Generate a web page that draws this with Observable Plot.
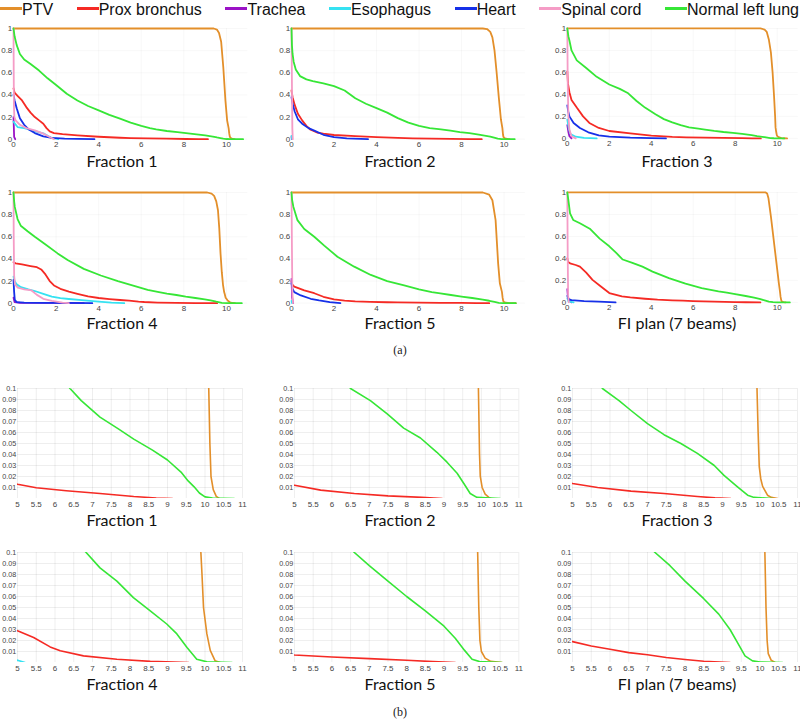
<!DOCTYPE html>
<html><head><meta charset="utf-8">
<script src="https://cdn.jsdelivr.net/npm/d3@7"></script>
<script src="https://cdn.jsdelivr.net/npm/@observablehq/plot@0.6"></script>
<style>
body{margin:0;background:#fff;}
#root{position:relative;width:800px;height:722px;overflow:hidden;background:#fff;font-family:"Liberation Sans",Arial,sans-serif;}
.panel{position:absolute;}
.title{position:absolute;font-family:Lato,sans-serif;font-size:16px;line-height:12px;color:#111;white-space:nowrap;transform:translateX(-50%);}
#legend{position:absolute;left:0;top:1px;width:799px;display:flex;justify-content:space-between;align-items:center;height:17px;}
.leg{display:flex;align-items:center;font-size:16px;line-height:17px;height:17px;color:#111;white-space:nowrap;}
.leg .sw{display:inline-block;width:22px;height:3px;margin-top:-2px;}
.sub{position:absolute;font-family:"Liberation Serif","DejaVu Serif",serif;font-size:12px;line-height:12px;color:#222;transform:translateX(-50%);}
</style></head>
<body><div id="root"><div id="legend"></div></div>
<script>
// ---------- data ----------
const structures = ["PTV","Prox bronchus","Trachea","Esophagus","Heart","Spinal cord","Normal left lung"];
const colors = ["#E38F2A","#F52A24","#9B12C6","#35E2F2","#1630E8","#F59CC6","#36E636"];
const panelTitles = ["Fraction 1","Fraction 2","Fraction 3","Fraction 4","Fraction 5","FI plan (7 beams)"];
const subLabels = ["(a)","(b)"];
const fullXTicks = [0,2,4,6,8,10];
const fullYTicks = [0,0.2,0.4,0.6,0.8,1];
const zoomXTicks = [5,5.5,6,6.5,7,7.5,8,8.5,9,9.5,10,10.5,11];
const zoomYTicks = [0.01,0.02,0.03,0.04,0.05,0.06,0.07,0.08,0.09,0.1];

const fraction1 = {
  "PTV": [[0,1],[9.4,1],[9.55,0.99],[9.65,0.96],[9.75,0.88],[9.85,0.65],[9.95,0.35],[10.03,0.17],[10.1,0.1],[10.13,0.05],[10.16,0.02],[10.22,0.008],[10.3,0.002],[10.38,0]],
  "Prox bronchus": [[0,0.46],[0.05,0.42],[0.2,0.39],[0.4,0.35],[0.6,0.29],[0.8,0.24],[1.0,0.2],[1.2,0.17],[1.4,0.14],[1.55,0.1],[1.7,0.07],[1.9,0.055],[2.3,0.045],[3,0.035],[4,0.022],[5,0.013],[5.5,0.0098],[6.3,0.007],[7.2,0.0045],[8.1,0.0018],[8.7,0.0005],[9.13,0]],
  "Trachea": [[0,0.2],[0.03,0.02],[0.08,0]],
  "Esophagus": [[0,0.157],[0.19,0.11],[0.5,0.1],[0.97,0.075],[1.44,0.05],[1.75,0.015],[2.1,0]],
  "Heart": [[0,0.4],[0.05,0.35],[0.15,0.28],[0.3,0.19],[0.5,0.13],[0.7,0.09],[1.0,0.055],[1.4,0.025],[1.8,0.012],[2.4,0.005],[3.0,0.002],[3.8,0]],
  "Spinal cord": [[0,1],[0.01,0.6],[0.02,0.3],[0.04,0.2],[0.1,0.17],[0.3,0.13],[0.6,0.1],[1.0,0.08],[1.4,0.05],[1.7,0.02],[1.9,0]],
  "Normal left lung": [[0,1],[0.05,0.93],[0.15,0.85],[0.3,0.77],[0.5,0.72],[0.8,0.68],[1.2,0.62],[1.6,0.55],[2.0,0.49],[2.5,0.41],[3.0,0.35],[3.5,0.3],[4.0,0.26],[4.5,0.22],[5.0,0.185],[5.5,0.15],[6.0,0.12],[6.4,0.1],[6.7,0.089],[7.2,0.074],[7.7,0.063],[8.1,0.054],[8.6,0.044],[9.0,0.035],[9.36,0.024],[9.55,0.016],[9.71,0.0106],[9.85,0.005],[10.0,0.0015],[10.2,0.0005],[10.78,0]]
};
const fraction2 = {
  "PTV": [[0,1],[9.0,1],[9.2,0.995],[9.35,0.97],[9.45,0.92],[9.55,0.8],[9.65,0.6],[9.75,0.38],[9.85,0.18],[9.92,0.1],[9.95,0.04],[9.97,0.02],[10.02,0.01],[10.1,0.004],[10.2,0.001],[10.25,0]],
  "Prox bronchus": [[0,0.44],[0.05,0.38],[0.15,0.31],[0.3,0.23],[0.5,0.17],[0.7,0.12],[0.9,0.085],[1.2,0.06],[1.5,0.05],[2,0.038],[3,0.027],[4,0.018],[5,0.012],[5.7,0.0076],[6.6,0.0045],[7.5,0.0024],[8.4,0.001],[8.95,0]],
  "Trachea": [[0,0.02],[0.02,0]],
  "Esophagus": [[0,0.03],[0.03,0]],
  "Heart": [[0,0.38],[0.05,0.32],[0.15,0.25],[0.3,0.18],[0.5,0.14],[0.8,0.1],[1.1,0.075],[1.5,0.04],[2.0,0.018],[2.6,0.007],[3.6,0]],
  "Spinal cord": [[0,1],[0.02,0.5],[0.04,0.1],[0.06,0]],
  "Normal left lung": [[0,1],[0.02,0.85],[0.05,0.77],[0.1,0.7],[0.2,0.63],[0.4,0.57],[0.7,0.54],[1.0,0.525],[1.5,0.505],[2.0,0.48],[2.5,0.44],[3.0,0.37],[3.5,0.32],[4.0,0.28],[4.5,0.24],[5.0,0.19],[5.5,0.15],[6.0,0.12],[6.5,0.1],[7.03,0.089],[7.48,0.077],[7.92,0.064],[8.37,0.055],[8.81,0.042],[9.08,0.033],[9.35,0.023],[9.53,0.0136],[9.7,0.0045],[9.88,0.001],[10.5,0]]
};
const fraction3 = {
  "PTV": [[0,1],[9.2,1],[9.4,0.99],[9.5,0.97],[9.6,0.9],[9.7,0.78],[9.78,0.6],[9.85,0.38],[9.9,0.2],[9.92,0.1],[9.95,0.06],[9.98,0.029],[10.02,0.018],[10.07,0.011],[10.2,0.003],[10.3,0.001],[10.47,0]],
  "Prox bronchus": [[0,0.61],[0.03,0.5],[0.1,0.42],[0.2,0.35],[0.45,0.28],[0.75,0.2],[1.05,0.14],[1.5,0.095],[2.0,0.067],[3.0,0.045],[4.0,0.025],[5,0.0136],[5.67,0.01],[6.56,0.0067],[7.44,0.0045],[8.33,0.0018],[8.8,0.0006],[9.22,0]],
  "Trachea": [[0,0.12],[0.05,0.06],[0.1,0.02],[0.2,0]],
  "Esophagus": [[0,0.17],[0.08,0.08],[0.15,0.04],[0.4,0.015],[0.8,0.005],[1.4,0]],
  "Heart": [[0,0.3],[0.05,0.24],[0.1,0.2],[0.3,0.14],[0.6,0.095],[1.0,0.055],[1.5,0.028],[2.0,0.015],[3.0,0.006],[4.0,0.002],[4.7,0]],
  "Spinal cord": [[0,1],[0.02,0.5],[0.05,0.2],[0.1,0.08],[0.2,0.02],[0.4,0]],
  "Normal left lung": [[0,1],[0.05,0.93],[0.1,0.89],[0.2,0.8],[0.45,0.71],[0.9,0.64],[1.4,0.56],[2.0,0.49],[2.5,0.45],[2.9,0.41],[3.3,0.34],[3.7,0.28],[4.2,0.22],[4.6,0.175],[5.0,0.145],[5.4,0.12],[5.8,0.1],[6.24,0.089],[6.56,0.08],[7.0,0.068],[7.44,0.058],[7.89,0.05],[8.33,0.041],[8.78,0.03],[9.04,0.021],[9.4,0.0106],[9.67,0.003],[9.84,0.001],[10.33,0]]
};
const fraction4 = {
  "PTV": [[0,1],[9.1,1],[9.3,0.99],[9.42,0.97],[9.52,0.92],[9.6,0.84],[9.66,0.68],[9.72,0.45],[9.78,0.28],[9.84,0.16],[9.89,0.1],[9.92,0.08],[9.96,0.05],[10.05,0.026],[10.14,0.011],[10.27,0.0015],[10.4,0]],
  "Prox bronchus": [[0,0.37],[0.1,0.36],[0.4,0.35],[0.8,0.335],[1.1,0.325],[1.3,0.305],[1.5,0.26],[1.7,0.2],[1.9,0.16],[2.2,0.13],[2.6,0.105],[3.0,0.085],[3.5,0.062],[4.0,0.047],[4.5,0.037],[5,0.0288],[5.43,0.0227],[5.87,0.0142],[6.14,0.0106],[6.76,0.006],[7.65,0.003],[8.54,0.001],[9.56,0]],
  "Trachea": [[0,0.05],[0.05,0.01],[0.3,0.004],[1.5,0.002],[3.3,0]],
  "Esophagus": [[0,0.24],[0.05,0.2],[0.15,0.17],[0.35,0.145],[0.7,0.125],[1.0,0.11],[1.4,0.085],[1.8,0.06],[2.2,0.045],[2.6,0.038],[3.2,0.028],[4.0,0.015],[4.6,0.006],[5.2,0]],
  "Heart": [[0,0.21],[0.03,0.1],[0.06,0.03],[0.15,0.01],[0.5,0.005],[1.5,0.003],[2.5,0.002],[3.7,0]],
  "Spinal cord": [[0,1],[0.01,0.6],[0.03,0.25],[0.07,0.17],[0.2,0.14],[0.5,0.125],[0.85,0.115],[1.1,0.075],[1.4,0.04],[1.8,0.02],[2.3,0.005],[2.6,0]],
  "Normal left lung": [[0,1],[0.03,0.92],[0.06,0.87],[0.19,0.76],[0.34,0.7],[0.66,0.65],[1.0,0.6],[1.44,0.54],[2.07,0.45],[2.54,0.39],[3.3,0.31],[4.1,0.25],[4.9,0.2],[5.7,0.155],[6.3,0.12],[6.83,0.1],[7.2,0.086],[7.65,0.074],[8.09,0.059],[8.54,0.047],[8.98,0.035],[9.25,0.026],[9.52,0.0136],[9.78,0.003],[10.05,0.0006],[10.72,0]]
};
const fraction5 = {
  "PTV": [[0,1],[9.0,1],[9.3,0.98],[9.45,0.93],[9.6,0.75],[9.72,0.36],[9.8,0.18],[9.9,0.1],[9.93,0.05],[9.96,0.02],[10.0,0.01],[10.1,0.004],[10.25,0.001],[10.55,0]],
  "Prox bronchus": [[0,0.2],[0.03,0.17],[0.13,0.15],[0.6,0.115],[1.07,0.09],[1.5,0.058],[2.0,0.035],[2.5,0.024],[3.0,0.017],[3.7,0.012],[4.5,0.0085],[5.0,0.0068],[6.0,0.005],[7.0,0.0035],[8.0,0.002],[8.7,0.0008],[9.3,0]],
  "Trachea": [[0,0.22],[0.03,0.05],[0.08,0]],
  "Esophagus": [[0,0.02],[0.03,0]],
  "Heart": [[0,0.18],[0.05,0.13],[0.13,0.1],[0.44,0.07],[0.9,0.04],[1.3,0.025],[1.8,0.01],[2.3,0]],
  "Spinal cord": [[0,1],[0.02,0.5],[0.04,0.1],[0.07,0]],
  "Normal left lung": [[0,1],[0.03,0.93],[0.09,0.87],[0.28,0.75],[0.6,0.67],[1.07,0.6],[1.54,0.52],[2.16,0.42],[2.95,0.33],[3.73,0.255],[4.5,0.2],[5.3,0.16],[6.0,0.125],[6.6,0.1],[7.0,0.088],[7.5,0.074],[8.0,0.06],[8.5,0.047],[9.0,0.033],[9.3,0.022],[9.55,0.011],[9.75,0.003],[9.95,0.0008],[10.55,0]]
};
const fiPlan = {
  "PTV": [[0,1],[9.45,1],[9.52,0.99],[9.58,0.95],[9.7,0.78],[9.8,0.62],[9.9,0.46],[10.0,0.3],[10.08,0.17],[10.13,0.1],[10.16,0.05],[10.19,0.02],[10.22,0.008],[10.3,0.002],[10.4,0]],
  "Prox bronchus": [[0,0.4],[0.03,0.37],[0.13,0.355],[0.4,0.34],[0.6,0.325],[0.9,0.27],[1.2,0.205],[1.6,0.145],[2.0,0.085],[2.6,0.055],[3.0,0.045],[3.7,0.033],[4.3,0.025],[5.0,0.019],[5.5,0.015],[6.0,0.012],[6.5,0.009],[7.0,0.007],[7.5,0.0045],[8.0,0.0027],[8.5,0.0012],[9.2,0]],
  "Trachea": [[0,0.12],[0.03,0.05],[0.08,0.02],[0.2,0]],
  "Esophagus": [[0,0.04],[0.05,0.01],[0.3,0]],
  "Heart": [[0,0.06],[0.05,0.03],[0.2,0.02],[0.8,0.012],[1.5,0.007],[2.3,0]],
  "Spinal cord": [[0,1],[0.02,0.4],[0.04,0.05],[0.07,0]],
  "Normal left lung": [[0,1],[0.05,0.93],[0.13,0.81],[0.28,0.75],[0.6,0.72],[1.07,0.67],[1.54,0.58],[2.0,0.51],[2.33,0.45],[2.64,0.39],[3.1,0.36],[3.58,0.325],[4.06,0.28],[4.84,0.22],[5.63,0.17],[6.4,0.13],[7.2,0.1],[7.6,0.088],[8.0,0.074],[8.5,0.058],[8.9,0.044],[9.2,0.03],[9.4,0.018],[9.6,0.006],[9.8,0.0015],[10.0,0.0005],[10.6,0]]
};
const fractions = [fraction1, fraction2, fraction3, fraction4, fraction5, fiPlan];

// ---------- layout ----------
const root = document.getElementById("root");
const ML = 26, MR = 2, MT = 5, MB = 16;
const fmt = d => String(+(+d).toFixed(3));

// legend
const legend = document.getElementById("legend");
structures.forEach((s, i) => {
  const d = document.createElement("div");
  d.className = "leg";
  d.innerHTML = `<span class="sw" style="background:${colors[i]}"></span><span>${s}</span>`;
  legend.appendChild(d);
});

function makePanel(fr, zoomed, w, h) {
  const rows = structures.flatMap(s => (fr[s] || []).map(([x, y]) => ({s, x, y})));
  const svg = Plot.plot({
    width: ML + w + MR, height: MT + h + MB,
    marginLeft: ML, marginRight: MR, marginTop: MT, marginBottom: MB,
    style: {background: "transparent", fontFamily: "Liberation Sans, Arial, sans-serif", fontSize: "8px", color: "#444", overflow: "visible"},
    x: {domain: zoomed ? [5, 11] : [0, 11], ticks: zoomed ? zoomXTicks : fullXTicks, tickFormat: fmt, tickSize: 0, tickPadding: 2.5, label: null, grid: true},
    y: {domain: zoomed ? [0, 0.1] : [0, 1], ticks: zoomed ? zoomYTicks : fullYTicks, tickFormat: fmt, tickSize: 0, tickPadding: 1.2, label: null, grid: true},
    color: {domain: structures, range: colors},
    marks: [
      Plot.line(rows, {x: "x", y: "y", z: "s", stroke: "s", strokeWidth: zoomed ? 1.6 : 1.8, clip: zoomed})
    ]
  });
  // faint grid lines as in the reference
  svg.querySelectorAll("line").forEach(l => {
    l.setAttribute("stroke-opacity", zoomed ? 0.09 : 0.045);
  });
  // slightly smaller y tick labels in the zoomed panels so they fit the left edge
  if (zoomed) {
    svg.querySelectorAll('[aria-label^="y-axis"]').forEach(g => g.setAttribute("font-size", "7.2px"));
  }
  return svg;
}

function place(el, left, top) {
  const wrap = document.createElement("div");
  wrap.className = "panel";
  wrap.style.left = left + "px";
  wrap.style.top = top + "px";
  wrap.appendChild(el);
  root.appendChild(wrap);
}
function addText(cls, txt, cx, top) {
  const d = document.createElement("div");
  d.className = cls;
  d.textContent = txt;
  d.style.left = cx + "px";
  d.style.top = top + "px";
  root.appendChild(d);
}

// (a) full DVH panels
const topX0 = [12.7, 290.7, 567.3];
const topUnit = [21.3, 21.26, 21.14];
const topY1 = [28.3, 192];
const topH = 110.7;
// (b) zoomed panels
const botX0 = [16.7, 294, 571.7];
const botW = [225, 224.3, 225];
const botY1 = [388, 551.7];
const botH = 110;
const titleCX = [122, 400, 677];
const titleTopA = [154.5, 317];
const titleTopB = [514, 678];

fractions.forEach((fr, i) => {
  const r = Math.floor(i / 3), c = i % 3;
  const w = topUnit[c] * 11;
  place(makePanel(fr, false, w, topH), topX0[c] - ML, topY1[r] - MT);
  addText("title", panelTitles[i], titleCX[c], titleTopA[r]);
  place(makePanel(fr, true, botW[c], botH), botX0[c] - ML, botY1[r] - MT);
  addText("title", panelTitles[i], titleCX[c], titleTopB[r]);
});
addText("sub", subLabels[0], 400, 344);
addText("sub", subLabels[1], 400, 706);
</script>
</body></html>
